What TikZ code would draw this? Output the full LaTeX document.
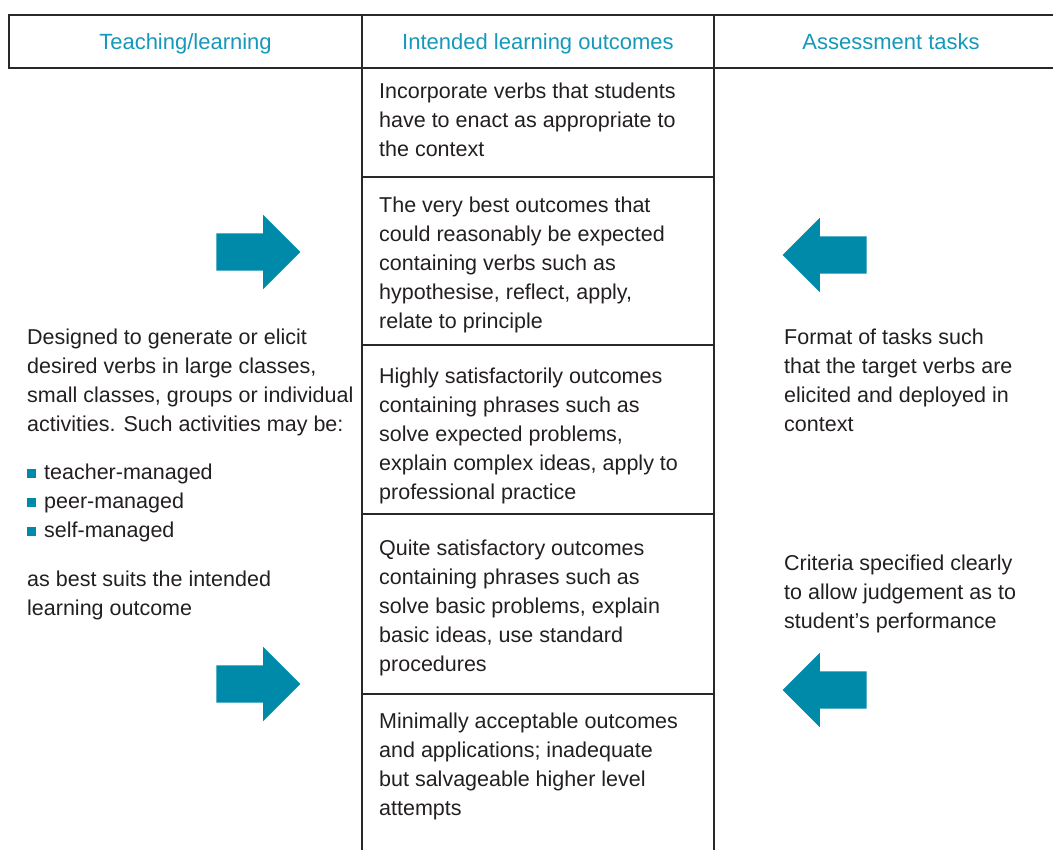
\documentclass[tikz,border=0pt]{standalone}
\usepackage{fontspec}
\setmainfont{Liberation Sans}
\usetikzlibrary{shapes.arrows}
\definecolor{arrowteal}{RGB}{0,138,170}
\definecolor{headteal}{RGB}{22,152,186}
\definecolor{rulegray}{RGB}{40,40,40}
\definecolor{textgray}{RGB}{35,31,32}
\tikzset{%
	tablerule/.style = {draw=rulegray, line width=1.3pt},
	cell/.style      = {anchor=north west, inner sep=0pt, align=left, text=textgray, font=\fontsize{21.5}{29}\selectfont},
	head/.style      = {anchor=base, inner sep=0pt, text=headteal, font=\fontsize{22}{29}\selectfont},
	fatarrow/.style  = {single arrow, fill=arrowteal, inner xsep=0pt, inner ysep=18.5pt, minimum height=84pt, single arrow head extend=18.5pt},
}
\newcommand{\sqbullet}{\textcolor{arrowteal}{\rule[2pt]{8.5pt}{8.5pt}}\hspace{8.5pt}}

\begin{document}
\begin{tikzpicture}[x=1pt,y=-1pt]
	\useasboundingbox (0,0) rectangle (1053,850);
	
	% table frame
	\draw[tablerule] (1053,15) -- (9,15) -- (9,68) -- (1053,68);
	\draw[tablerule] (362,15) -- (362,850);
	\draw[tablerule] (714,15) -- (714,850);
	\foreach \yy in {177,345,514,694}
		\draw[tablerule] (362,\yy) -- (714,\yy);
	
	% headings
	\node[head] (hdteach) at (185.5,50) {Teaching/learning};
	\node[head] (hdilo) at (538,50) {Intended learning outcomes};
	\node[head] (hdassess) at (891,50) {Assessment tasks};
	
	% outcomes column
	\node[cell] (ilo1) at (379,82.5) {Incorporate verbs that students\\have to enact as appropriate to\\the context};
	\node[cell] (ilo2) at (379,196.5) {The very best outcomes that\\could reasonably be expected\\containing verbs such as\\hypothesise, reflect, apply,\\relate to principle};
	\node[cell] (ilo3) at (379,367.5) {Highly satisfactorily outcomes\\containing phrases such as\\solve expected problems,\\explain complex ideas, apply to\\professional practice};
	\node[cell] (ilo4) at (379,539.5) {Quite satisfactory outcomes\\containing phrases such as\\solve basic problems, explain\\basic ideas, use standard\\procedures};
	\node[cell] (ilo5) at (379,712.5) {Minimally acceptable outcomes\\and applications; inadequate\\but salvageable higher level\\attempts};
	
	% teaching column
	\node[cell] (teachtxt) at (27,329) {Designed to generate or elicit\\desired verbs in large classes,\\small classes, groups or individual\\activities. Such activities may be:\\[19pt]
		\sqbullet teacher-managed\\\sqbullet peer-managed\\\sqbullet self-managed\\[20pt]
		as best suits the intended\\learning outcome};
	
	% assessment column
	\node[cell] (assesstxt1) at (784,329) {Format of tasks such\\that the target verbs are\\elicited and deployed in\\context};
	\node[cell] (assesstxt2) at (784,554.5) {Criteria specified clearly\\to allow judgement as to\\student’s performance};
	
	% arrows
	\node[fatarrow] (arrowtl) at (249,252) {};
	\node[fatarrow] (arrowbl) at (249,684) {};
	\node[fatarrow, shape border rotate=180] (arrowtr) at (834,255) {};
	\node[fatarrow, shape border rotate=180] (arrowbr) at (834,690) {};
\end{tikzpicture}
\end{document}
